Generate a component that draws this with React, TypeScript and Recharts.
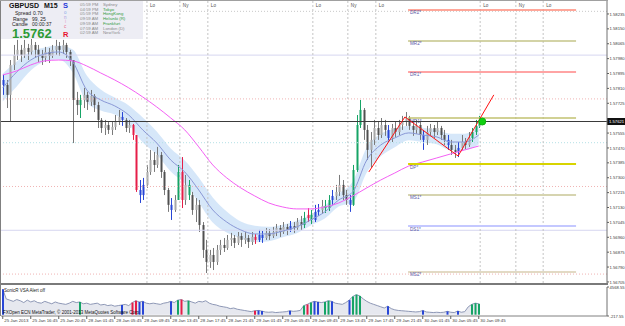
import React from 'react';
import {
  ComposedChart,
  Bar,
  Line,
  Area,
  XAxis,
  YAxis,
  ReferenceLine,
  ReferenceDot,
  Cell,
} from 'recharts';

const FONT = '"Liberation Sans", Arial, sans-serif';

// GBPUSD, 30 minute candles
const firstOpen = 1.57858;
const closes = [
  1.5783, 1.57773, 1.57944, 1.58001, 1.5803, 1.58001, 1.58041, 1.58018, 1.58058, 1.5803,
  1.58001, 1.57984, 1.58018, 1.57995, 1.5803, 1.58052, 1.5803, 1.58058, 1.58018, 1.57972,
  1.57744, 1.57715, 1.57744, 1.57773, 1.57733, 1.57767, 1.57715, 1.5763, 1.57584, 1.57601,
  1.57573, 1.5759, 1.57619, 1.57647, 1.5763, 1.57584, 1.57601, 1.57544, 1.5723, 1.57201,
  1.57259, 1.57333, 1.57401, 1.57373, 1.5743, 1.57333, 1.5723, 1.57145, 1.57116, 1.57173,
  1.57333, 1.57173, 1.57259, 1.57201, 1.57116, 1.57145, 1.5703, 1.56888, 1.56819, 1.56859,
  1.56819, 1.56888, 1.56916, 1.56899, 1.56945, 1.56956, 1.56928, 1.56967, 1.56945, 1.56956,
  1.56933, 1.56962, 1.56945, 1.56973, 1.56956, 1.56985, 1.56967, 1.5699, 1.57013, 1.5699,
  1.57019, 1.57002, 1.57024, 1.57013, 1.57047, 1.5703, 1.5707, 1.57088, 1.57059, 1.57105,
  1.57116, 1.57139, 1.57127, 1.57173, 1.57196, 1.57219, 1.57259, 1.57201, 1.57173, 1.57145,
  1.57344, 1.57601, 1.57687, 1.57573, 1.57459, 1.57516, 1.57584, 1.57544, 1.57601, 1.57573,
  1.57527, 1.57584, 1.57561, 1.57601, 1.57619, 1.57641, 1.57596, 1.57573, 1.57601, 1.57544,
  1.57516, 1.57561, 1.57584, 1.57561, 1.57584, 1.57544, 1.57516, 1.57487, 1.57459, 1.57447,
  1.5747, 1.57504, 1.57487, 1.57527, 1.57561, 1.57596, 1.57621,
];
const highs = [
  1.57887, 1.57858, 1.57972, 1.58058, 1.58087, 1.58058, 1.58087, 1.58064, 1.58098, 1.58075,
  1.58058, 1.5803, 1.58047, 1.58041, 1.58058, 1.58087, 1.58075, 1.58087, 1.5807, 1.5803,
  1.57972, 1.5779, 1.57773, 1.57813, 1.5779, 1.57801, 1.57778, 1.57733, 1.57641, 1.5763,
  1.57619, 1.57619, 1.57658, 1.57687, 1.57675, 1.57641, 1.5763, 1.57607, 1.57544, 1.57287,
  1.57299, 1.57373, 1.57459, 1.57447, 1.57476, 1.57447, 1.57344, 1.57242, 1.57184, 1.57201,
  1.57373, 1.57418, 1.57316, 1.57287, 1.57219, 1.57184, 1.57173, 1.57047, 1.56945, 1.56888,
  1.56899, 1.56916, 1.56945, 1.56956, 1.56973, 1.56985, 1.56973, 1.5699, 1.56985, 1.5699,
  1.56973, 1.5699, 1.56979, 1.57002, 1.56996, 1.57013, 1.57007, 1.57019, 1.57036, 1.5703,
  1.57047, 1.57036, 1.57053, 1.57047, 1.5707, 1.57082, 1.57105, 1.57127, 1.57116, 1.57145,
  1.5715, 1.57173, 1.57173, 1.57201, 1.5723, 1.57259, 1.57316, 1.57287, 1.5723, 1.57201,
  1.57373, 1.57658, 1.57744, 1.57698, 1.57601, 1.57561, 1.5763, 1.57619, 1.57641, 1.5763,
  1.57601, 1.57607, 1.57619, 1.5763, 1.57653, 1.57675, 1.57653, 1.57619, 1.5763, 1.57619,
  1.57573, 1.57596, 1.57607, 1.57601, 1.57619, 1.57596, 1.57573, 1.57544, 1.57516, 1.57487,
  1.57504, 1.57544, 1.57527, 1.57561, 1.57584, 1.5763, 1.57653,
];
const lows = [
  1.57773, 1.57698, 1.57619, 1.57915, 1.57972, 1.57961, 1.57984, 1.57972, 1.58001, 1.57984,
  1.57961, 1.57944, 1.57961, 1.57955, 1.57984, 1.58001, 1.57995, 1.58007, 1.57984, 1.57938,
  1.57498, 1.57658, 1.57641, 1.57698, 1.57687, 1.5771, 1.57675, 1.57584, 1.57556, 1.57544,
  1.5755, 1.57544, 1.57573, 1.57601, 1.57596, 1.57561, 1.57556, 1.57516, 1.57219, 1.57156,
  1.57173, 1.57242, 1.57316, 1.57333, 1.57356, 1.57299, 1.57201, 1.57105, 1.57059, 1.57105,
  1.57173, 1.57127, 1.57145, 1.57173, 1.57088, 1.57047, 1.5699, 1.56842, 1.56756, 1.56785,
  1.56773, 1.56802, 1.56859, 1.56876, 1.56888, 1.5691, 1.56899, 1.56916, 1.56905, 1.56922,
  1.56899, 1.56916, 1.56922, 1.56933, 1.56928, 1.56945, 1.56945, 1.56956, 1.56967, 1.56962,
  1.56979, 1.56973, 1.5699, 1.56985, 1.57002, 1.57002, 1.57013, 1.57047, 1.57036, 1.57047,
  1.57082, 1.57093, 1.57099, 1.5711, 1.57145, 1.57173, 1.57196, 1.57173, 1.57145, 1.57105,
  1.57139, 1.57333, 1.57584, 1.57516, 1.57401, 1.57356, 1.57487, 1.57516, 1.57527, 1.57539,
  1.57504, 1.57504, 1.57533, 1.57544, 1.57573, 1.57596, 1.57573, 1.57539, 1.5755, 1.57516,
  1.57459, 1.57487, 1.57544, 1.57527, 1.57544, 1.57516, 1.57487, 1.57459, 1.5743, 1.57413,
  1.57418, 1.57459, 1.57464, 1.57476, 1.57504, 1.57544, 1.57584,
];
const volumes = [
  4200, 2600, 2400, 2200, 2500, 2300, 2000, 2400, 2100, 2300,
  2000, 1900, 2200, 2000, 1800, 2100, 1900, 1800, 1700, 1900,
  2200, 2000, 2100, 1800, 1900, 1700, 1800, 1900, 1600, 1700,
  1500, 1600, 1400, 1500, 1600, 1700, 1500, 2000, 2300, 2100,
  2200, 1900, 1800, 1900, 1800, 1700, 1900, 2000, 2200, 2000,
  2400, 2500, 2200, 2300, 2100, 1900, 2200, 2100, 2300, 1900,
  1700, 1600, 1400, 1300, 1200, 1000, 1100, 900, 800, 700,
  600, 500, 650, 700, 600, 450, 400, 450, 350, 400,
  450, 500, 650, 550, 600, 700, 1500, 1700, 2000, 2200,
  2100, 2000, 2100, 2300, 2200, 1900, 1800, 1700, 2000, 2400,
  3000, 3300, 3100, 2600, 2200, 1900, 1700, 1500, 1300, 1100,
  1400, 1000, 800, 700, 650, 600, 550, 500, 450, 500,
  700, 450, 400, 350, 400, 350, 400, 550, 400, 350,
  600, 400, 500, 1300, 1700, 1900, 1800,
];
// SonicR VSA bar classes: b = climax/churn, r = bearish, g = bullish
const vsaMarks: [number, string][] = [
  [0, 'b'], [22, 'g'], [34, 'b'], [37, 'r'], [38, 'r'], [39, 'b'], [40, 'b'], [48, 'b'],
  [50, 'g'], [51, 'r'], [53, 'g'], [72, 'r'], [73, 'b'], [74, 'b'], [82, 'b'], [86, 'g'],
  [87, 'r'], [88, 'g'], [89, 'b'], [90, 'b'], [92, 'g'], [93, 'g'], [94, 'b'], [99, 'b'],
  [100, 'g'], [101, 'g'], [102, 'g'], [110, 'b'], [120, 'b'], [127, 'b'], [130, 'b'],
  [134, 'g'], [135, 'g'], [136, 'g'],
];

// moving averages, one reading every 4 bars
const MA_STEP = 4;
const maBlue = [
  1.57813, 1.57904, 1.57972, 1.58007, 1.58018, 1.57961, 1.57801, 1.57744, 1.5771, 1.57658,
  1.57573, 1.57498, 1.57401, 1.57333, 1.5723, 1.57116, 1.57047, 1.57002, 1.56979, 1.56979,
  1.56996, 1.57019, 1.57059, 1.57105, 1.57173, 1.57219, 1.57401, 1.57487, 1.57527, 1.57556,
  1.57544, 1.57533, 1.57504, 1.57504, 1.57544,
];
const bandUpper = [
  1.57895, 1.57964, 1.58021, 1.58044, 1.58055, 1.58032, 1.57884, 1.57804, 1.57758, 1.57713,
  1.57644, 1.57564, 1.57467, 1.57398, 1.57301, 1.57187, 1.57107, 1.5705, 1.57026, 1.5702,
  1.57032, 1.57054, 1.5709, 1.57142, 1.5721, 1.57279, 1.57473, 1.57551, 1.5758, 1.57597,
  1.57586, 1.57574, 1.57551, 1.57551, 1.57597,
];
const bandLower = [
  1.57735, 1.57821, 1.57912, 1.57964, 1.57975, 1.57901, 1.5773, 1.57684, 1.57661, 1.57604,
  1.57501, 1.57433, 1.57336, 1.57267, 1.57159, 1.57044, 1.56987, 1.56953, 1.56932, 1.56938,
  1.5696, 1.56983, 1.57027, 1.57067, 1.57136, 1.57159, 1.5733, 1.57423, 1.57474, 1.57514,
  1.57503, 1.57491, 1.57457, 1.57457, 1.57491,
];
const maMagenta = [
  1.57887, 1.5791, 1.57944, 1.57967, 1.57972, 1.57967, 1.57938, 1.57898, 1.57858, 1.57813,
  1.57761, 1.57704, 1.57641, 1.57573, 1.57476, 1.57373, 1.57299, 1.57242, 1.57196, 1.57156,
  1.57133, 1.57122, 1.57122, 1.57133, 1.57156, 1.57196, 1.57242, 1.57287, 1.57327, 1.57367,
  1.5739, 1.57413, 1.57436, 1.57459, 1.57481,
];

const timeLabels = [
  '25 Jan 2013', '25 Jan 16:45', '25 Jan 20:45', '28 Jan 01:45', '28 Jan 05:45',
  '28 Jan 09:45', '28 Jan 13:45', '28 Jan 17:45', '28 Jan 21:45', '29 Jan 01:45',
  '29 Jan 05:45', '29 Jan 09:45', '29 Jan 13:45', '29 Jan 17:45', '29 Jan 21:45',
  '30 Jan 01:45', '30 Jan 05:45', '30 Jan 09:45',
];
const LABEL_EVERY = 8;

const priceTicks = [
  1.58235, 1.5815, 1.58065, 1.5798, 1.57895, 1.5781, 1.57725, 1.5764, 1.57555, 1.5747,
  1.57385, 1.573, 1.57215, 1.5713, 1.57045, 1.5696, 1.56875, 1.5679, 1.56705,
];
const gridLevels = [1.5825, 1.58, 1.5775, 1.575, 1.5725, 1.57, 1.5675];

const pivotNames = ['DR2*', 'MR2*', 'DR1*', 'MR1*', 'DP*', 'MS1*', 'DS1*', 'MS2*'];
const pivotPrices = [1.58258, 1.58081, 1.57904, 1.57641, 1.57378, 1.57202, 1.57024, 1.56762];
const pivotFrom = 115.8;
const pivotTo = 163.8;

const sessionNames = ['Lo', 'Ny', 'Lo', 'Lo', 'Ny', 'Lo', 'Lo', 'Ny', 'Lo'];
const sessionBars = [41.2, 50.6, 58.6, 88.6, 98.6, 106.6, 136.4, 146.6, 154.4];

const zigzagBars = [104.6, 114.9, 130.1, 140.3];
const zigzagPrices = [1.57333, 1.57647, 1.57424, 1.57773];

const sessionTimes = ['05:59 PM', '04:59 PM', '05:59 PM', '09:59 AM', '09:59 AM', '07:59 AM', '02:59 AM'];
const sessionCities = ['Sydney', 'Tokyo', 'HongKong', 'Helsinki (R)', 'Frankfurt', 'London (D)', 'NewYork'];
const cityOpen = [false, true, true, true, true, false, false];

// styles
const vsaColors: Record<string, string> = { b: '#2846d6', r: '#e61e48', g: '#16a466' };
const pivotStyles = [
  { color: '#ff8a78', width: 1.5 },
  { color: '#c4c488', width: 1.5 },
  { color: '#ffa4a4', width: 2 },
  { color: '#c2c270', width: 1.5 },
  { color: '#d8d400', width: 2 },
  { color: '#d6d4b0', width: 2 },
  { color: '#c4c8ff', width: 2 },
  { color: '#e2dac4', width: 2 },
];
const gridColors = ['#c8c8c8', '#d6d6f0', '#f0b4b4', '#b4e0e6', '#f0b4b4', '#d6d6f0', '#f0b4b4'];

const X_DOMAIN: [number, number] = [-0.5, 172.64];
const Y_DOMAIN: [number, number] = [1.56699, 1.58309];
const lastClose = closes[closes.length - 1];
// the bid box on the axis hides the tick label it sits on
const shownPriceTicks = priceTicks.filter((p) => Math.abs(p - lastClose) > 0.0003);

const vsaMap = new Map(vsaMarks);
const rows = closes.map((close, i) => {
  const k = i % MA_STEP === 0 ? i / MA_STEP : -1;
  const mark = vsaMap.get(i) ?? null;
  return {
    i,
    open: i === 0 ? firstOpen : closes[i - 1],
    close,
    high: highs[i],
    low: lows[i],
    vol: volumes[i],
    vsa: mark,
    vsaVol: mark ? volumes[i] : null,
    ma: k >= 0 ? maBlue[k] : null,
    sma: k >= 0 ? maMagenta[k] : null,
    band: k >= 0 ? [bandLower[k], bandUpper[k]] : null,
  };
});

function Candle(props: any) {
  const { x, y, width, height, payload } = props;
  if (x == null || !payload) return null;
  const { open, close, high, low, vsa } = payload;
  let top = y;
  let h = height;
  if (h < 0) {
    top = y + h;
    h = -h;
  }
  const k = high === low ? 0 : h / (high - low);
  const yOf = (v: number) => top + (high - v) * k;
  const cx = Math.round(x + width / 2);
  const up = close >= open;
  const body = vsa ? vsaColors[vsa] : up ? '#a8a8a8' : '#505050';
  const bodyTop = yOf(Math.max(open, close));
  const bodyH = Math.max(1, Math.abs(yOf(open) - yOf(close)));
  return (
    <g>
      <line x1={cx + 0.5} x2={cx + 0.5} y1={top} y2={top + h} stroke={vsa ? body : '#7a7a7a'} strokeWidth={1} />
      <rect x={cx - 0.5} y={bodyTop} width={2} height={bodyH} fill={body} />
    </g>
  );
}

const PriceTick = ({ x, y, payload }: any) => (
  <text x={x} y={y + 1.6} fontSize={4.2} fontFamily={FONT} fill="#404040">
    {payload.value.toFixed(5)}
  </text>
);

const VolTick = ({ x, y, payload }: any) => (
  <text x={x} y={y + 1.6} fontSize={4.2} fontFamily={FONT} fill="#404040">
    {payload.value.toFixed(2)}
  </text>
);

const TimeTick = ({ x, y, payload }: any) => (
  <text x={x + 1.5} y={y + 2} fontSize={4.4} fontFamily={FONT} fill="#404040">
    {timeLabels[Math.round(payload.value / LABEL_EVERY)]}
  </text>
);

function App() {
  const timeTicks = timeLabels.map((_, k) => k * LABEL_EVERY);
  return (
    <div style={{ position: 'absolute', left: 0, top: 0, width: 625, height: 326, background: '#fff', overflow: 'hidden' }}>
      <div style={{ position: 'absolute', left: 0, top: 0 }}>
        <ComposedChart width={625} height={285} data={rows} margin={{ top: 1, right: 0, bottom: 2, left: 1 }}>
          <XAxis type="number" dataKey="i" domain={X_DOMAIN} allowDataOverflow hide />
          <YAxis
            orientation="right"
            width={18}
            domain={Y_DOMAIN}
            allowDataOverflow
            ticks={shownPriceTicks}
            interval={0}
            tick={<PriceTick />}
            tickSize={2}
            tickMargin={0.5}
            tickLine={{ stroke: '#606060' }}
            axisLine={{ stroke: '#707070' }}
          />
          {gridLevels.map((p, k) => (
            <ReferenceLine key={'g' + p} y={p} stroke={gridColors[k]} strokeDasharray={k === 1 || k === 5 ? undefined : '1 2'} />
          ))}
          {sessionBars.map((b, k) => (
            <ReferenceLine
              key={'s' + k}
              x={b}
              stroke="#c4c4c4"
              strokeDasharray="2 2"
              label={(p: any) => (
                <text x={p.viewBox.x + 3} y={p.viewBox.y + 6} fontSize={4.6} fontFamily={FONT} fill="#505050">
                  {sessionNames[k]}
                </text>
              )}
            />
          ))}
          <Area
            dataKey="band"
            type="monotone"
            connectNulls
            stroke="none"
            fill="#d2e4f8"
            fillOpacity={0.9}
            isAnimationActive={false}
          />
          <Line dataKey="ma" type="monotone" connectNulls stroke="#8a98d6" strokeWidth={1} dot={false} isAnimationActive={false} />
          <Line dataKey="sma" type="monotone" connectNulls stroke="#f460f4" strokeWidth={1} dot={false} isAnimationActive={false} />
          {pivotPrices.map((p, k) => (
            <ReferenceLine
              key={'p' + k}
              segment={[{ x: pivotFrom, y: p }, { x: pivotTo, y: p }]}
              stroke={pivotStyles[k].color}
              strokeWidth={pivotStyles[k].width}
              label={(lp: any) => (
                <text x={lp.viewBox.x + 2} y={lp.viewBox.y + 4.5} fontSize={4.6} fontFamily={FONT} fill="#5a5aa8">
                  {pivotNames[k]}
                </text>
              )}
            />
          ))}
          <ReferenceLine
            y={lastClose}
            stroke="#3a3a3a"
            strokeWidth={1}
            label={(lp: any) => (
              <g>
                <rect x={lp.viewBox.x + lp.viewBox.width} y={lp.viewBox.y - 3.5} width={18} height={7} fill="#111" />
                <text x={lp.viewBox.x + lp.viewBox.width + 2} y={lp.viewBox.y + 1.6} fontSize={4.2} fontFamily={FONT} fill="#fff">
                  {lastClose.toFixed(5)}
                </text>
              </g>
            )}
          />
          <Bar dataKey={(d: any) => [d.low, d.high]} barSize={2} shape={<Candle />} isAnimationActive={false} />
          {zigzagBars.slice(1).map((b, k) => (
            <ReferenceLine
              key={'z' + k}
              segment={[{ x: zigzagBars[k], y: zigzagPrices[k] }, { x: b, y: zigzagPrices[k + 1] }]}
              stroke="#ff1010"
              strokeWidth={1}
            />
          ))}
          <ReferenceDot x={137} y={lastClose} r={3.5} fill="#10d010" stroke="#10b010" />
        </ComposedChart>
      </div>

      <div style={{ position: 'absolute', left: 0, top: 283, width: 608, height: 2, background: '#7a7a7a' }} />

      <div style={{ position: 'absolute', left: 0, top: 285 }}>
        <ComposedChart width={625} height={41} data={rows} margin={{ top: 2, right: 0, bottom: 0, left: 1 }}>
          <XAxis
            type="number"
            dataKey="i"
            domain={X_DOMAIN}
            allowDataOverflow
            ticks={timeTicks}
            interval={0}
            tick={<TimeTick />}
            tickSize={3}
            tickMargin={1}
            height={10}
            tickLine={{ stroke: '#606060' }}
            axisLine={{ stroke: '#808080' }}
          />
          <YAxis
            orientation="right"
            width={18}
            domain={[-217.55, 4568.55]}
            allowDataOverflow
            ticks={[4568.55, -217.55]}
            interval={0}
            tick={<VolTick />}
            tickSize={2}
            tickMargin={0.5}
            tickLine={{ stroke: '#606060' }}
            axisLine={{ stroke: '#707070' }}
          />
          <Area dataKey="vol" type="linear" stroke="#8e98b6" strokeWidth={1} fill="#e6e8ef" fillOpacity={1} isAnimationActive={false} />
          <Bar dataKey="vsaVol" barSize={2} isAnimationActive={false}>
            {rows.map((r) => (
              <Cell key={r.i} fill={r.vsa ? vsaColors[r.vsa] : 'none'} />
            ))}
          </Bar>
        </ComposedChart>
      </div>

      <svg width={625} height={326} style={{ position: 'absolute', left: 0, top: 0, pointerEvents: 'none' }} fontFamily={FONT}>
        <line x1={0.5} y1={0} x2={0.5} y2={316} stroke="#808080" />
        <line x1={0} y1={0.5} x2={608} y2={0.5} stroke="#a0a0a0" />
        <rect x={1} y={1} width={142} height={38} fill="#ededf4" />
        <text x={9} y={8} fontSize={7} fontWeight="bold" fill="#111">GBPUSD</text>
        <text x={44} y={8} fontSize={7} fontWeight="bold" fill="#111">M15</text>
        <text x={15} y={15} fontSize={5} fill="#222">Spread</text>
        <text x={33} y={15} fontSize={5} fill="#222">0.70</text>
        <text x={13} y={20.5} fontSize={5} fill="#222">Range</text>
        <text x={32} y={20.5} fontSize={5} fill="#222">99, 25</text>
        <text x={12} y={26} fontSize={5} fill="#222">Candle</text>
        <text x={32} y={26} fontSize={5} fill="#222">00:00:37</text>
        <text x={12} y={37.5} fontSize={13} fontWeight="bold" fill="#2c9a36">{lastClose.toFixed(4)}</text>
        <text x={63} y={8} fontSize={7.5} fontWeight="bold" fill="#2438d8">S</text>
        <text x={64} y={13.5} fontSize={4.5} fill="#8aa8e8">o</text>
        <text x={64} y={18.5} fontSize={4.5} fill="#a89ce0">n</text>
        <text x={65} y={23} fontSize={4.5} fill="#e0a0c8">i</text>
        <text x={64} y={28} fontSize={4.5} fill="#e86a8a">c</text>
        <text x={63} y={37} fontSize={7.5} fontWeight="bold" fill="#e8102c">R</text>
        {sessionTimes.map((t, k) => (
          <g key={t + k}>
            <text x={80} y={6 + k * 4.7} fontSize={4.3} fill="#8a8a8a">{t}</text>
            <text x={103} y={6 + k * 4.7} fontSize={4.3} fill={cityOpen[k] ? '#2e9a3a' : '#8a8a8a'}>{sessionCities[k]}</text>
          </g>
        ))}
        <text x={4} y={292} fontSize={4.5} fill="#222">SonicR VSA   Alert off</text>
        <text x={3} y={314} fontSize={4.5} fill="#111">FXOpen ECN MetaTrader, © 2001-2013 MetaQuotes Software Corp.</text>
      </svg>
    </div>
  );
}

export default App;
